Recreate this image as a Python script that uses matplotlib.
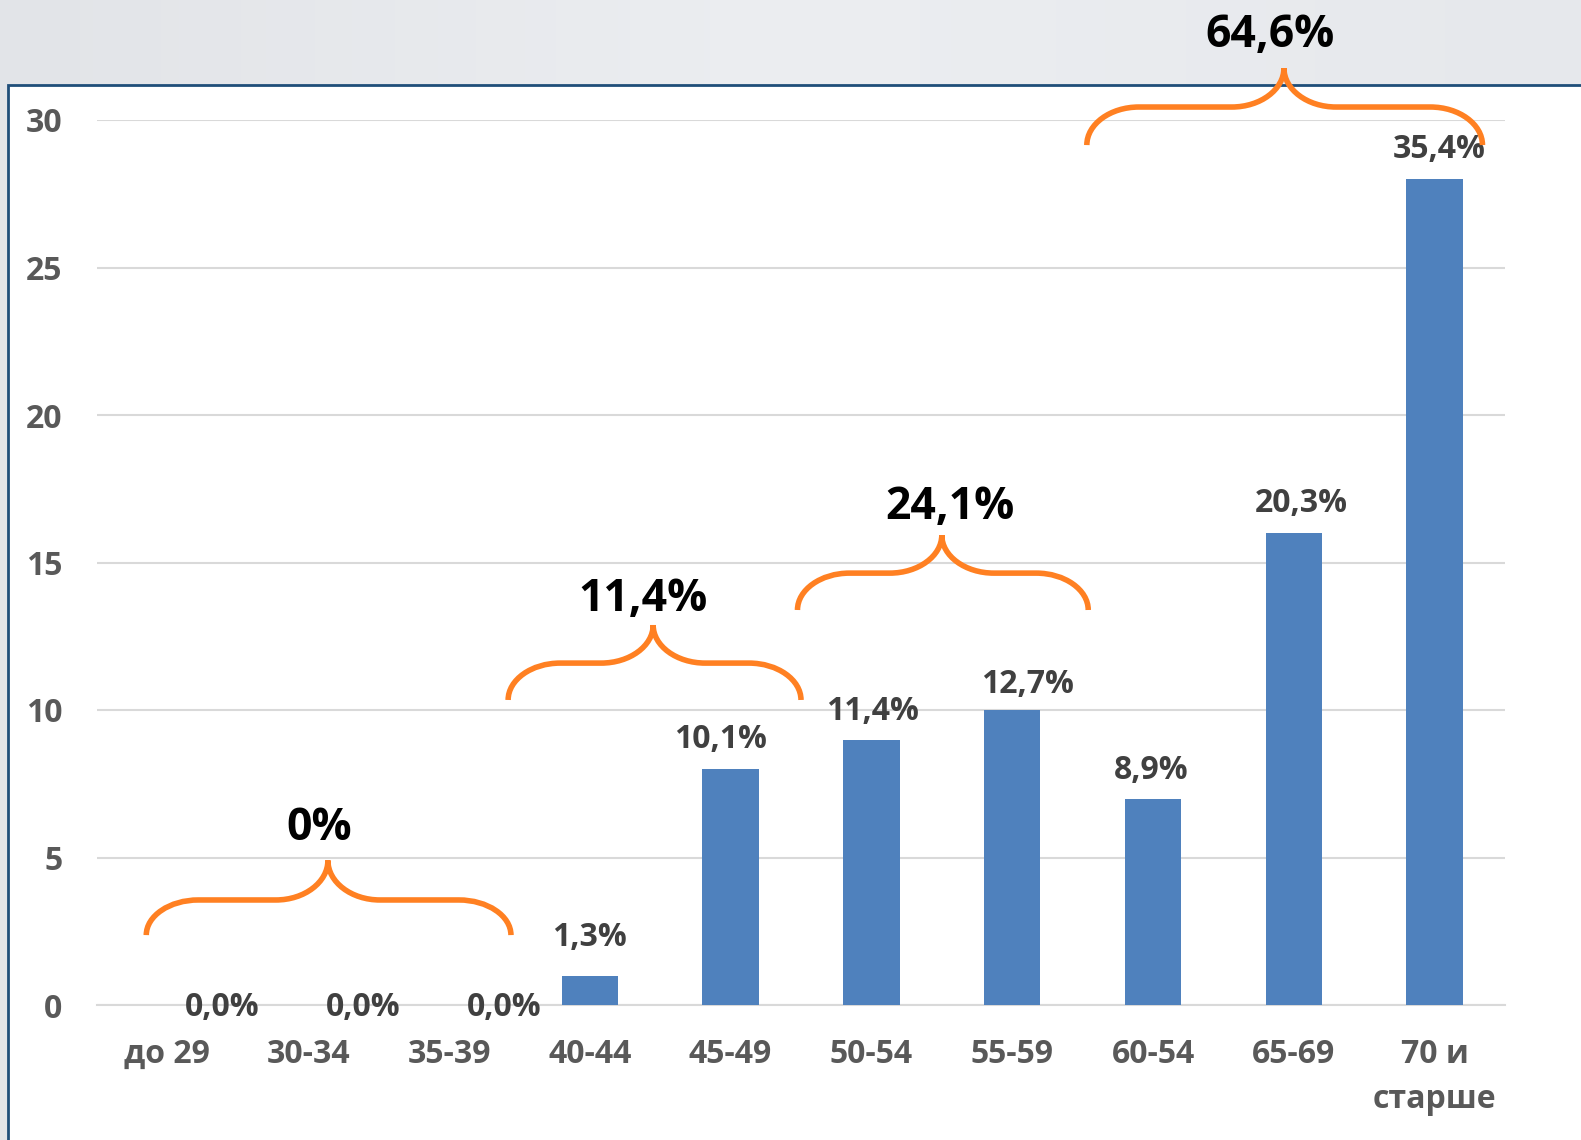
import matplotlib
matplotlib.use("Agg")
import matplotlib.pyplot as plt
import numpy as np
from matplotlib.path import Path
from matplotlib.patches import PathPatch, Rectangle

plt.rcParams['font.family'] = ['Open Sans', 'DejaVu Sans']

ages = ["до 29", "30-34", "35-39", "40-44", "45-49", "50-54",
        "55-59", "60-54", "65-69", "70 и\nстарше"]
counts = [0, 0, 0, 1, 8, 9, 10, 7, 16, 28]
shares = ["0,0%", "0,0%", "0,0%", "1,3%", "10,1%", "11,4%",
          "12,7%", "8,9%", "20,3%", "35,4%"]
groups = ["0%", "11,4%", "24,1%", "64,6%"]

# label placement tweaks (x shift, y gap above bar)
lab_dx = [0.39, 0.39, 0.39, 0.0, -0.07, 0.01, 0.11, -0.01, 0.05, 0.03]
lab_dy = [-0.07, -0.07, -0.07, 1.3, 1.0, 0.95, 0.85, 0.95, 1.0, 1.0]

# braces: x0, x1, xtip, y_end, y_flat, y_tip ; group text x, y
braces = [(-0.15, 2.44, 1.14, 2.37, 3.56, 4.9),
          (2.42, 4.50, 3.45, 10.34, 11.59, 12.88),
          (4.475, 6.54, 5.50, 13.39, 14.64, 15.93),
          (6.53, 9.34, 7.93, 29.15, 30.44, 31.76)]
group_xy = [(1.08, 6.0), (3.38, 13.73), (5.56, 16.85), (7.83, 32.88)]

fig = plt.figure(figsize=(15.81, 11.4), dpi=100)

# background: grey strip on top, white panel with blue frame
bg = fig.add_axes([0, 0, 1, 1], zorder=-5)
bg.set_xlim(0, 1)
bg.set_ylim(0, 1)
bg.axis('off')
grad = np.linspace(0, 1, 256).reshape(1, -1)
bg.imshow(grad, extent=[0, 1, 0, 1], aspect='auto',
          cmap=matplotlib.colors.LinearSegmentedColormap.from_list(
              'g', ['#e2e4e8', '#eceef1', '#e6e8ec']))
bg.add_patch(Rectangle((8 / 1581, -0.01), 1.0, (1140 - 85) / 1140 + 0.01,
                       facecolor='white', edgecolor='#1f4e79', lw=2))

ax = fig.add_axes([97 / 1581, 135 / 1140, 1408 / 1581, 885 / 1140])
ax.set_facecolor('none')
x = np.arange(len(ages))
ax.bar(x, counts, width=0.4, color='#4f81bd', zorder=3)
ax.set_xlim(-0.5, 9.5)
ax.set_ylim(0, 30)
ax.set_yticks([0, 5, 10, 15, 20, 25, 30])
ax.grid(axis='y', color='#d9d9d9', lw=1.5, zorder=0)
for s in ['top', 'right', 'left']:
    ax.spines[s].set_visible(False)
ax.spines['bottom'].set_color('#d9d9d9')
ax.spines['bottom'].set_linewidth(1.5)
ax.tick_params(length=0)
ax.tick_params(axis='y', pad=25)
ax.tick_params(axis='x', pad=24)
ax.set_xticks(x)
ax.set_xticklabels(ages, linespacing=1.45)
for t in ax.get_xticklabels() + ax.get_yticklabels():
    t.set_fontsize(23)
    t.set_fontweight('bold')
    t.set_color('#595959')

for i in range(len(ages)):
    ax.text(x[i] + lab_dx[i], counts[i] + lab_dy[i], shares[i],
            ha='center', va='center', fontsize=23, fontweight='bold',
            color='#404040', zorder=4)


def brace(ax, x0, x1, xt, ye, yf, yt, rx=0.37):
    k = 0.55
    verts = [(x0, ye),
             (x0, ye + k * (yf - ye)), (x0 + rx * (1 - k), yf), (x0 + rx, yf),
             (xt - rx, yf),
             (xt - rx * (1 - k), yf), (xt, yf + (1 - k) * (yt - yf)), (xt, yt),
             (xt, yf + (1 - k) * (yt - yf)), (xt + rx * (1 - k), yf), (xt + rx, yf),
             (x1 - rx, yf),
             (x1 - rx * (1 - k), yf), (x1, ye + k * (yf - ye)), (x1, ye)]
    codes = [Path.MOVETO, Path.CURVE4, Path.CURVE4, Path.CURVE4, Path.LINETO,
             Path.CURVE4, Path.CURVE4, Path.CURVE4,
             Path.CURVE4, Path.CURVE4, Path.CURVE4, Path.LINETO,
             Path.CURVE4, Path.CURVE4, Path.CURVE4]
    ax.add_patch(PathPatch(Path(verts, codes), facecolor='none',
                           edgecolor='#ff8022', lw=4, clip_on=False,
                           zorder=5, capstyle='butt'))


for b in braces:
    brace(ax, *b)
for g, (gx, gy) in zip(groups, group_xy):
    ax.text(gx, gy, g, ha='center', va='center', fontsize=32,
            fontweight='bold', color='black', clip_on=False, zorder=6)

fig.savefig('out.png', dpi=100)
